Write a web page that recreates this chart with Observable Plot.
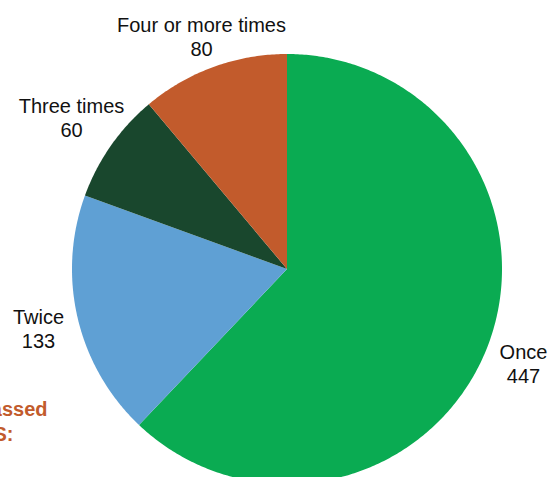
<!DOCTYPE html>
<html>
<head>
<meta charset="utf-8">
<script src="https://cdn.jsdelivr.net/npm/d3@7"></script>
<script src="https://cdn.jsdelivr.net/npm/@observablehq/plot@0.6"></script>
<style>
  html, body { margin: 0; padding: 0; background: #fff; overflow: hidden; }
  #chart { position: relative; width: 549px; height: 477px; }
</style>
</head>
<body>
<div id="chart"></div>
<script>
// Data
const categories = ["Once", "Twice", "Three times", "Four or more times"];
const counts = [447, 133, 60, 80];
const colors = ["#0aab52", "#5fa0d4", "#19472d", "#c25b2c"];
// Label anchor positions (pixel) for each category: [x, baseline y of first line]
const labelX = [523, 38, 71, 201];
const labelY = [358, 323, 112, 31];
const sideNoteLines = ["Bills passed", "BY TIMES:"];

// Layout
const W = 549, H = 477;
const cx = 286.5, cy = 268.5, R = 215;

const data = categories.map((c, i) => ({category: c, count: counts[i], color: colors[i]}));
const arcs = d3.pie().value(d => d.count).sort(null)(data);

// Build slice polygons in pixel space (clockwise from 12 o'clock)
const slices = arcs.map(a => {
  const n = Math.max(8, Math.ceil((a.endAngle - a.startAngle) / 0.01));
  const ring = [[cx, cy]];
  for (let k = 0; k <= n; k++) {
    const t = a.startAngle + (a.endAngle - a.startAngle) * k / n;
    ring.push([cx + R * Math.sin(t), cy - R * Math.cos(t)]);
  }
  ring.push([cx, cy]);
  return {type: "Feature", properties: a.data, geometry: {type: "Polygon", coordinates: [ring]}};
});

const labels = [];
data.forEach((d, i) => {
  labels.push({x: labelX[i], y: labelY[i], text: d.category});
  labels.push({x: labelX[i], y: labelY[i] + 24, text: String(d.count)});
});

const plot = Plot.plot({
  width: W,
  height: H,
  margin: 0,
  projection: {type: "identity"},
  x: {type: "identity"},
  y: {type: "identity"},
  style: {fontFamily: "'Liberation Sans', Arial, Helvetica, sans-serif", background: "transparent"},
  marks: [
    Plot.geo(slices, {fill: d => d.properties.color, stroke: "none"}),
    Plot.text(labels, {x: "x", y: "y", text: "text", fontSize: 20, fill: "#111", lineAnchor: "bottom", textAnchor: "middle"}),
    Plot.text([{x: 47, y: 415, t: sideNoteLines[0]}, {x: 13, y: 440, t: sideNoteLines[1]}],
      {x: "x", y: "y", text: "t", fontSize: 20, fontWeight: "bold", fill: "#c25b2c", textAnchor: "end", lineAnchor: "bottom"})
  ]
});
document.getElementById("chart").appendChild(plot);
</script>
</body>
</html>
